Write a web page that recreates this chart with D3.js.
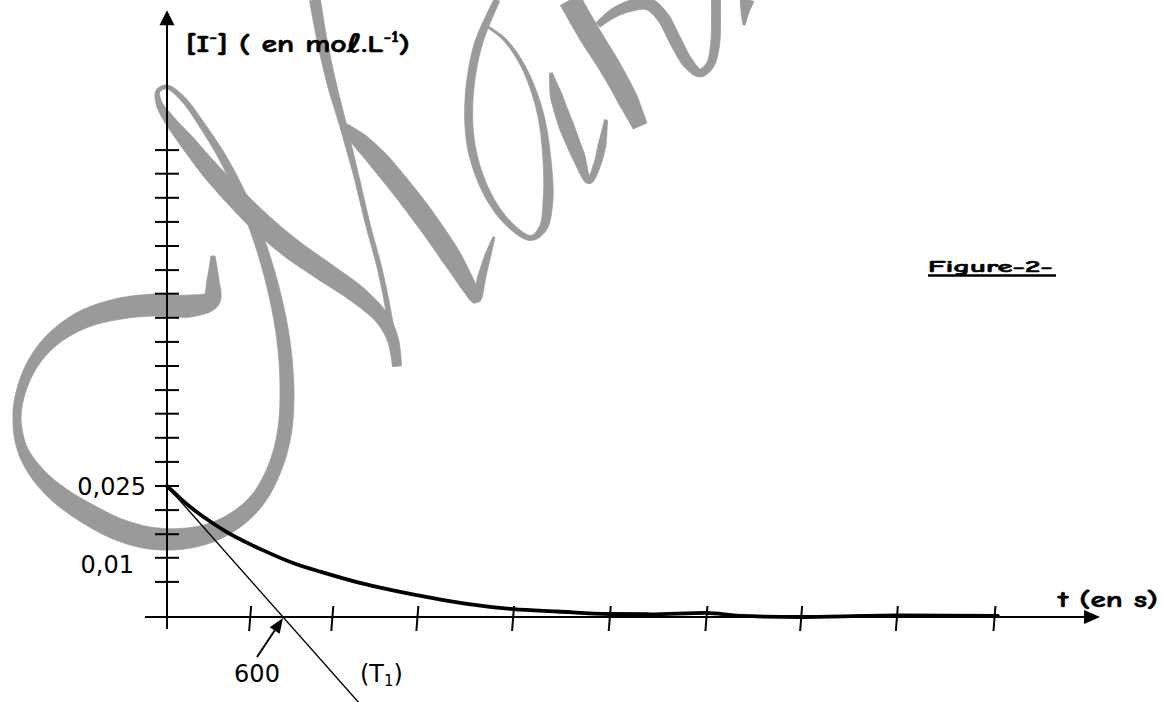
<!DOCTYPE html>
<html>
<head>
<meta charset="utf-8">
<script src="https://cdn.jsdelivr.net/npm/d3@7"></script>
<style>
  html, body { margin: 0; padding: 0; background: #fff; overflow: hidden; }
  .hand { font-family: "Comic Sans MS", "Comic Neue", "DejaVu Sans", sans-serif; font-weight: bold; fill: #000; stroke: #000; stroke-width: 0.6px; }
  .num  { font-family: Verdana, "DejaVu Sans", sans-serif; fill: #000; }
</style>
</head>
<body>
<svg id="fig" width="1163" height="702"></svg>
<script>
// Iodide concentration [I-] (mol/L) versus time t (s)
const times          = [0, 67, 134, 243, 310, 429, 481, 652, 797, 998, 1169, 1376, 1552, 1790, 2017, 2291, 2498, 2788, 2964, 3290, 3791, 4298];
const concentrations = [0.025, 0.0227, 0.0206, 0.01775, 0.0162, 0.0139, 0.0130, 0.0103, 0.0086, 0.0065, 0.0051, 0.0036, 0.0025, 0.0015, 0.00105, 0.00057, 0.00052, 0.00078, 0.0002, 0.0, 0.0003, 0.0002];

// Tangent (T1) to the curve at t = 0: it meets the time axis at 600 s
const tangentTimes  = [0, 600];
const tangentValues = [0.025, 0];
const tangentEnd    = 1000;   // the drawn tangent runs on past the axis

// Graduations
const timeGraduations = [430, 855, 1295, 1790, 2290, 2790, 3280, 3775, 4280];
const concGraduations = [0.0067, 0.0113, 0.0158, 0.0204, 0.025, 0.0296, 0.0342, 0.0388, 0.0433, 0.0479,
                         0.0525, 0.0571, 0.0617, 0.0662, 0.0708, 0.0754, 0.0800, 0.0846, 0.0891];
const concLabelValues = [0.025, 0.01];
const concLabelTexts  = ["0,025", "0,01"];
const timeLabelValue  = 600;
const timeLabelText   = "600";

// Axis extents (data units)
const tAxisFrom = -114, tAxisTo = 4826;
const cAxisFrom = -0.0023, cAxisTo = 0.1158;

const svg = d3.select("#fig");
const x = d3.scaleLinear().domain([0, 600]).range([167, 283]);
const y = d3.scaleLinear().domain([0, 0.025]).range([617, 486]);

// ---------- grey calligraphic watermark (drawn underneath) ----------
// each stroke: centre-line points [x, y, pen width]
const inkStrokes = [
  [[213,256,4],[213,280,12],[211,300,18],[190,306,22],[155,305,22],[118,309,21],[82,320,18],[52,340,14],[32,365,11],
   [20,395,9],[17,420,8],[22,448,10],[36,472,14],[58,494,18],[88,514,21],[120,530,22],[150,538,22],[180,539,21],
   [210,533,19],[237,519,17],[258,499,15],[274,470,14],[284,435,14],[287,395,14],[284,345,13],[276,300,12],
   [263,252,11],[246,206,10],[225,162,8],[202,125,6],[182,98,5],[167,87,4],[158,91,4],[159,103,6],[168,118,10],
   [188,143,15],[210,170,18],[235,197,20],[260,222,21],[292,249,21],[325,272,20],[358,295,18],[382,318,14],
   [393,340,11],[397,366,9]],
  [[315,0,11],[322,40,10],[332,85,9],[343,125,7],[356,175,5],[368,225,4.5],[380,270,4.5],[390,320,5],[397,366,8]],
  [[343,126,8],[360,141,16],[380,162,20],[420,212,21],[450,255,20],[468,285,15],[476,299,9],[482,276,8],[488,255,6],[494,237,2]],
  [[497,0,6],[478,45,8],[469,100,8],[472,150,8],[488,195,7],[510,225,6],[531,238,5],[543,228,8],[548,200,10],
   [547,160,8],[540,112,6],[524,68,4],[505,40,3],[488,27,2]],
  [[551,73,3],[556,95,12],[566,125,15],[578,155,13],[589,181,6],[597,165,7],[602,145,8],[606,120,3]],
  [[570,0,22],[590,35,22],[610,67,21],[628,100,20],[640,126,15]],
  [[598,25,6],[612,14,9],[630,6,11],[648,4,12],[662,16,12],[676,42,12],[688,63,11],[700,73,8],[710,65,8],
   [715,45,9],[716,20,9],[716,0,9]],
  [[747,0,14],[745,12,8],[744,25,2]]
];

function inkOutline(pts) {
  const tmp = svg.append("path")
    .attr("d", d3.line().curve(d3.curveCatmullRom.alpha(0.5))(pts.map(p => [p[0], p[1]])));
  const node = tmp.node();
  const L = node.getTotalLength();
  const cum = [0];
  for (let i = 1; i < pts.length; i++) {
    cum.push(cum[i - 1] + Math.hypot(pts[i][0] - pts[i - 1][0], pts[i][1] - pts[i - 1][1]));
  }
  const total = cum[cum.length - 1];
  const widthAt = d3.scaleLinear().domain(cum.map(c => c / total)).range(pts.map(p => p[2]));
  const n = Math.max(8, Math.ceil(L / 2));
  const samples = d3.range(n + 1).map(i => node.getPointAtLength(L * i / n));
  tmp.remove();
  const left = [], right = [];
  samples.forEach((p, i) => {
    const a = samples[Math.max(0, i - 1)], b = samples[Math.min(n, i + 1)];
    const dx = b.x - a.x, dy = b.y - a.y, len = Math.hypot(dx, dy) || 1;
    const nx = -dy / len, ny = dx / len, hw = widthAt(i / n) / 2;
    left.push([p.x + nx * hw, p.y + ny * hw]);
    right.push([p.x - nx * hw, p.y - ny * hw]);
  });
  const pts2 = left.concat(right.reverse());
  return "M" + pts2.map(p => p[0].toFixed(1) + "," + p[1].toFixed(1)).join("L") + "Z";
}

const ink = svg.append("g");
inkStrokes.forEach(s => {
  ink.append("path").attr("d", inkOutline(s)).attr("fill", "#9a9a9a").attr("stroke", "#9a9a9a").attr("stroke-width", 0.8);
});

// ---------- axes ----------
const axes = svg.append("g").attr("stroke", "#000").attr("stroke-width", 2);
// time axis
axes.append("line")
  .attr("x1", x(tAxisFrom)).attr("x2", x(tAxisTo) - 8)
  .attr("y1", y(0)).attr("y2", y(0));
svg.append("path")
  .attr("d", `M${x(tAxisTo)},${y(0)} L${x(tAxisTo) - 16},${y(0) - 7} L${x(tAxisTo) - 16},${y(0) + 7} Z`)
  .attr("fill", "#000");
// concentration axis
axes.append("line")
  .attr("x1", x(0)).attr("x2", x(0))
  .attr("y1", y(cAxisFrom)).attr("y2", y(cAxisTo) + 8);
svg.append("path")
  .attr("d", `M${x(0)},${y(cAxisTo)} L${x(0) - 7.5},${y(cAxisTo) + 15} L${x(0) + 7.5},${y(cAxisTo) + 15} Z`)
  .attr("fill", "#000");

// graduations
axes.selectAll(".tg").data(timeGraduations).join("line")
  .attr("x1", d => x(d) + 1).attr("x2", d => x(d) - 1)
  .attr("y1", y(0) - 11).attr("y2", y(0) + 14);
axes.selectAll(".cg").data(concGraduations).join("line")
  .attr("x1", x(0) - 12).attr("x2", x(0) + 12)
  .attr("y1", d => y(d)).attr("y2", d => y(d));

// ---------- tangent (T1) ----------
const slope = (tangentValues[1] - tangentValues[0]) / (tangentTimes[1] - tangentTimes[0]);
const tangentPts = [
  [tangentTimes[0], tangentValues[0]],
  [tangentEnd, tangentValues[0] + slope * (tangentEnd - tangentTimes[0])]
];
svg.append("path")
  .attr("d", d3.line().x(d => x(d[0])).y(d => y(d[1]))(tangentPts))
  .attr("fill", "none").attr("stroke", "#000").attr("stroke-width", 1.4);

// ---------- concentration curve ----------
const curve = times.map((t, i) => ({t, c: concentrations[i]}));
svg.append("path")
  .datum(curve)
  .attr("d", d3.line().x(d => x(d.t)).y(d => y(d.c)).curve(d3.curveMonotoneX))
  .attr("fill", "none").attr("stroke", "#000").attr("stroke-width", 3.8)
  .attr("stroke-linecap", "round").attr("stroke-linejoin", "round");

// ---------- labels ----------
const concLabelRight = [146, 134];
svg.selectAll(".cl").data(concLabelValues).join("text")
  .attr("class", "num")
  .attr("x", (d, i) => concLabelRight[i])
  .attr("y", d => y(d) + 8.5)
  .attr("text-anchor", "end")
  .style("font-size", "24px")
  .text((d, i) => concLabelTexts[i]);

svg.append("text").attr("class", "num")
  .attr("x", x(timeLabelValue) - 26).attr("y", 682)
  .attr("text-anchor", "middle").style("font-size", "24px")
  .text(timeLabelText);

// arrow from the "600" label to where (T1) meets the time axis
const tip = [x(timeLabelValue), y(0) + 1];
const tail = [x(timeLabelValue) - 26, y(0) + 40];
const ang = Math.atan2(tip[1] - tail[1], tip[0] - tail[0]);
const headLen = 15, headHalf = 6;
const base = [tip[0] - headLen * Math.cos(ang), tip[1] - headLen * Math.sin(ang)];
svg.append("line")
  .attr("x1", tail[0]).attr("y1", tail[1]).attr("x2", base[0]).attr("y2", base[1])
  .attr("stroke", "#000").attr("stroke-width", 2);
svg.append("path")
  .attr("d", `M${tip[0]},${tip[1]} L${base[0] + headHalf * Math.sin(ang)},${base[1] - headHalf * Math.cos(ang)} L${base[0] - headHalf * Math.sin(ang)},${base[1] + headHalf * Math.cos(ang)} Z`)
  .attr("fill", "#000");

// tangent name
const tName = svg.append("text").attr("class", "num").attr("x", 360).attr("y", 682).style("font-size", "24px");
tName.append("tspan").text("(T");
tName.append("tspan").attr("dy", 4).style("font-size", "15px").text("1");
tName.append("tspan").attr("dy", -4).text(")");

// hand-lettered titles, stretched horizontally to their span
function fitText(sel, left, right) {
  const w = sel.node().getComputedTextLength();
  const k = w > 0 ? (right - left) / w : 1;
  const yy = +sel.attr("y");
  sel.attr("x", 0).attr("y", 0).attr("transform", `translate(${left},${yy}) scale(${k},1)`);
}

const yTitle = svg.append("text").attr("class", "hand")
  .attr("x", 0).attr("y", 52)
  .style("font-size", "25px");
yTitle.append("tspan").text("[I");
yTitle.append("tspan").attr("dy", -10).style("font-size", "15px").text("-");
yTitle.append("tspan").attr("dy", 10).text("] ( en mo\u2113.L");
yTitle.append("tspan").attr("dy", -10).style("font-size", "15px").text("-1");
yTitle.append("tspan").attr("dy", 10).text(")");
fitText(yTitle, 186, 410);

const tTitle = svg.append("text").attr("class", "hand")
  .attr("x", 0).attr("y", 607)
  .style("font-size", "23px")
  .text("t (en s)");
fitText(tTitle, 1058, 1158);

// figure caption, underlined
const capLeft = 928, capRight = 1053;
const cap = svg.append("text").attr("class", "hand")
  .attr("x", 0).attr("y", 272)
  .style("font-size", "17px")
  .text("Figure-2-");
fitText(cap, capLeft, capRight);
svg.append("line")
  .attr("x1", capLeft).attr("x2", capRight + 3).attr("y1", 275.5).attr("y2", 275.5)
  .attr("stroke", "#000").attr("stroke-width", 2.5);
</script>
</body>
</html>
